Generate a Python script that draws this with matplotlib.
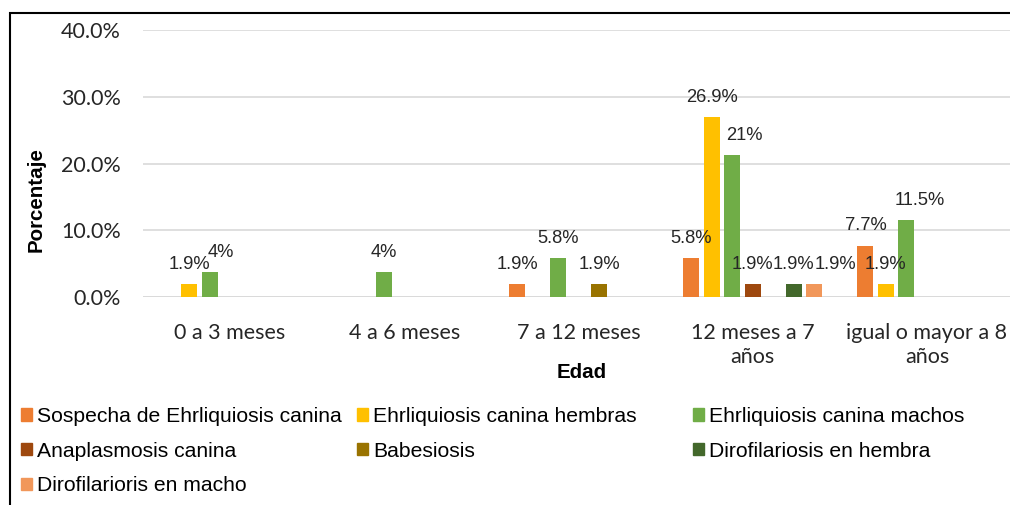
import numpy as np
import matplotlib
matplotlib.use("Agg")
import matplotlib.pyplot as plt
from matplotlib.patches import Rectangle, Patch

# categories (age groups)
edades = ["0 a 3 meses", "4 a 6 meses", "7 a 12 meses",
          "12 meses a 7\naños", "igual o mayor a 8\naños"]

series = ["Sospecha de Ehrliquiosis canina", "Ehrliquiosis canina hembras",
          "Ehrliquiosis canina machos", "Anaplasmosis canina", "Babesiosis",
          "Dirofilariosis en hembra", "Dirofilarioris en macho"]
colores = ["#ED7D31", "#FFC000", "#70AD47", "#9E480E", "#997300", "#43682B", "#F1975A"]

# porcentaje por serie (0 = sin barra)
sospecha = [0, 0, 1.9, 5.8, 7.7]
ehr_hembras = [1.9, 0, 0, 26.9, 1.9]
ehr_machos = [3.8, 3.8, 5.8, 21.2, 11.5]
anaplasmosis = [0, 0, 0, 1.9, 0]
babesiosis = [0, 0, 1.9, 0, 0]
diro_hembra = [0, 0, 0, 1.9, 0]
diro_macho = [0, 0, 0, 1.9, 0]

# etiquetas tal como aparecen
et_sospecha = ["", "", "1.9%", "5.8%", "7.7%"]
et_ehr_hembras = ["1.9%", "", "", "26.9%", "1.9%"]
et_ehr_machos = ["4%", "4%", "5.8%", "21%", "11.5%"]
et_anaplasmosis = ["", "", "", "1.9%", ""]
et_babesiosis = ["", "", "1.9%", "", ""]
et_diro_hembra = ["", "", "", "1.9%", ""]
et_diro_macho = ["", "", "", "1.9%", ""]

valores = [sospecha, ehr_hembras, ehr_machos, anaplasmosis, babesiosis, diro_hembra, diro_macho]
etiquetas = [et_sospecha, et_ehr_hembras, et_ehr_machos, et_anaplasmosis,
             et_babesiosis, et_diro_hembra, et_diro_macho]

# etiquetas movidas a mano a la derecha (serie, grupo) -> px
desplaz = {(2, 0): 11.5, (2, 3): 12, (2, 4): 13, (6, 3): 21}

W, H = 1010, 505
fig = plt.figure(figsize=(W / 100, H / 100), dpi=100)
ax = fig.add_axes([143 / W, 1 - 297 / H, (1014 - 143) / W, (297 - 30) / H])

x = np.arange(len(edades))
paso = 0.1176
ancho = 0.092
for j, (vals, labs) in enumerate(zip(valores, etiquetas)):
    pos = x + (j - 3) * paso
    for k, (xi, v, lab) in enumerate(zip(pos, vals, labs)):
        if v <= 0:
            continue
        ax.bar(xi, v, width=ancho, color=colores[j], zorder=3)
        dx = desplaz.get((j, k), 0) * 0.72
        ax.annotate(lab, (xi, v), xytext=(dx, 8), textcoords="offset points",
                    ha="center", va="bottom", fontsize=13.2,
                    family="Liberation Sans", color="#262626", zorder=4)

ax.set_xlim(-0.5, 4.5)
ax.set_ylim(0, 40)
ax.set_yticks([0, 10, 20, 30, 40])
ax.set_yticklabels(["%.1f%%" % t for t in [0, 10, 20, 30, 40]],
                   family="Lato", fontsize=15.5, color="#262626")
ax.set_xticks(x)
ax.set_xticklabels(edades, family="Lato", fontsize=15.5, color="#262626",
                   linespacing=1.25)
ax.tick_params(axis="both", length=0)
ax.tick_params(axis="y", pad=16)
ax.tick_params(axis="x", pad=18.5)
for s in ax.spines.values():
    s.set_visible(False)
ax.grid(axis="y", color="#d9d9d9", lw=1.2, zorder=0)
ax.set_axisbelow(True)
ax.axhline(0, color="#d9d9d9", lw=1.2, zorder=2)

fig.text(582 / W, 1 - 373 / H, "Edad", ha="center", va="center",
         family="Liberation Sans", weight="bold", fontsize=14.8)
fig.text(36 / W, 1 - 200 / H, "Porcentaje", ha="center", va="center", rotation=90,
         family="Liberation Sans", weight="bold", fontsize=14.8)

# leyenda en tres columnas de ancho fijo, orden por filas
handles = [Patch(color=c) for c in colores]
columnas = [[0, 3, 6], [1, 4], [2, 5]]
xcol = [21, 357, 693]
for cx, idx in zip(xcol, columnas):
    fig.legend([handles[i] for i in idx], [series[i] for i in idx],
               loc="upper left", bbox_to_anchor=(cx / W, 1 - 407 / H),
               frameon=False, borderpad=0, borderaxespad=0,
               handlelength=0.52, handleheight=0.52, handletextpad=0.25,
               labelspacing=0.74,
               prop={"family": "Liberation Sans", "size": 15.2})

# marco del gráfico (recortado a la derecha y abajo)
fig.add_artist(Rectangle((10 / W, -0.1), 1.2, 1.1 - 13 / H, transform=fig.transFigure,
                         fill=False, ec="black", lw=1.5))

fig.savefig("out.png", dpi=100)
